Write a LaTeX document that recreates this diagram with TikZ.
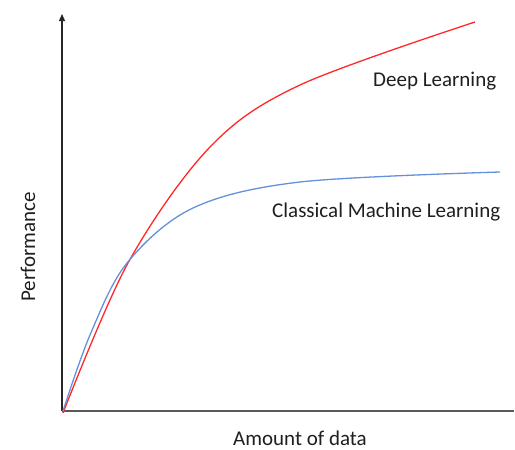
\documentclass[tikz,border=0pt]{standalone}
\usepackage{fontspec}
\setmainfont{Carlito}
\usetikzlibrary{arrows.meta}
\begin{document}
\begin{tikzpicture}[x=1pt,y=-1pt,
  axis/.style={draw=black!65,line width=1.6pt},
  lbl/.style={font=\fontsize{21}{25}\selectfont,text=black!88,inner sep=0pt,anchor=base west},
  deep/.style={draw={rgb,255:red,255;green,40;blue,40},line width=1.3pt},
  classic/.style={draw={rgb,255:red,100;green,145;blue,220},line width=1.3pt}]
\useasboundingbox (0,0) rectangle (515,450);
\coordinate (O) at (62,411);
\coordinate (Ytop) at (62,14);
\coordinate (Xend) at (514,411);
\draw[axis,draw=black!85,line width=1.2pt,-{Triangle[length=7pt,width=6pt]}] (O) -- (Ytop);
\draw[axis] (O) -- (Xend);
% learning curves
\draw[deep] plot[smooth,tension=0.55] coordinates
  {(63,413) (128,263) (210,147) (300,85) (475,22)};
\draw[classic] plot[smooth,tension=0.55] coordinates
  {(63,411) (90,335) (127,263) (193,208) (300,182) (500,172)};
\node[lbl] (dl) at (373,86) {Deep Learning};
\node[lbl] (cml) at (272,217) {Classical Machine Learning};
\node[lbl] (xl) at (233,445) {Amount of data};
\node[lbl,rotate=90] (yl) at (35,302) {Performance};
\end{tikzpicture}
\end{document}
